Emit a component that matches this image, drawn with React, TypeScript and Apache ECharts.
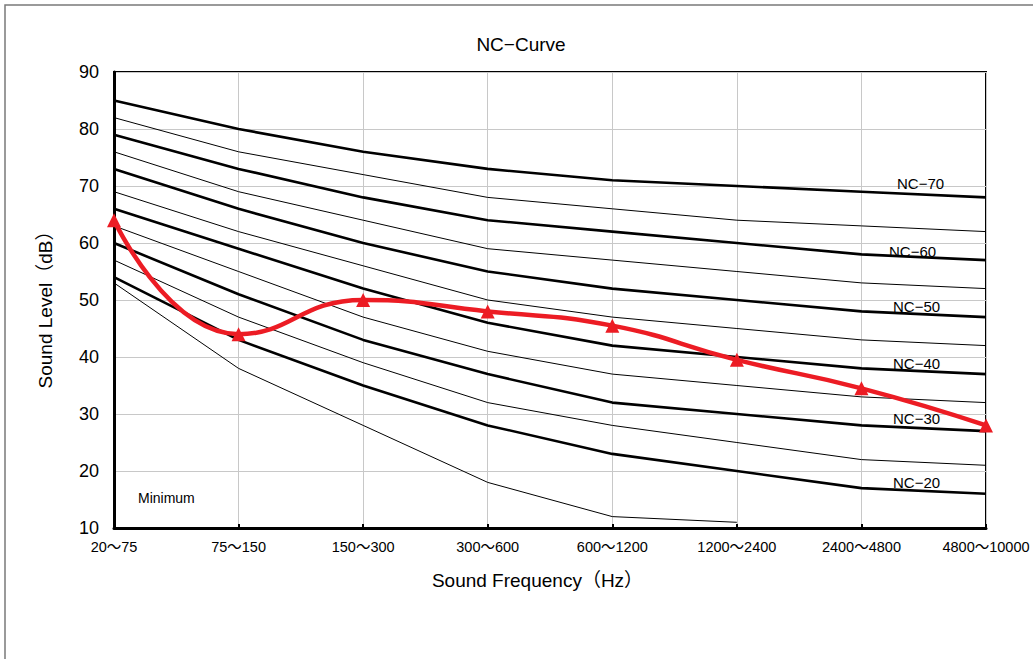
import React, { useEffect, useRef } from "react";
import * as echarts from "echarts";

const categories = ["20～75", "75～150", "150～300", "300～600", "600～1200", "1200～2400", "2400～4800", "4800～10000"];
const yTicks = { min: 10, max: 90, interval: 10 };

const nc70 = [85, 80, 76, 73, 71, 70, 69, 68];
const nc65 = [82, 76, 72, 68, 66, 64, 63, 62];
const nc60 = [79, 73, 68, 64, 62, 60, 58, 57];
const nc55 = [76, 69, 64, 59, 57, 55, 53, 52];
const nc50 = [73, 66, 60, 55, 52, 50, 48, 47];
const nc45 = [69, 62, 56, 50, 47, 45, 43, 42];
const nc40 = [66, 59, 52, 46, 42, 40, 38, 37];
const nc35 = [63, 55, 47, 41, 37, 35, 33, 32];
const nc30 = [60, 51, 43, 37, 32, 30, 28, 27];
const nc25 = [57, 47, 39, 32, 28, 25, 22, 21];
const nc20 = [54, 43, 35, 28, 23, 20, 17, 16];
const minimum = [53, 38, 28, 18, 12, 11, null, null];
const measured = [64, 44, 50, 48, 45.5, 39.5, 34.5, 28];

const ncLabels = [
  { text: "NC−70", x: 897, y: 183 },
  { text: "NC−60", x: 889, y: 251 },
  { text: "NC−50", x: 893, y: 306 },
  { text: "NC−40", x: 893, y: 363 },
  { text: "NC−30", x: 893, y: 418 },
  { text: "NC−20", x: 893, y: 482 },
];

const FONT = '"Liberation Sans", Arial, "Noto Sans CJK JP", sans-serif';

export default function App() {
  const ref = useRef<HTMLDivElement>(null);
  useEffect(() => {
    if (!ref.current) return;
    const chart = echarts.init(ref.current, undefined, { renderer: "svg" });
    const thick = (name: string, data: (number | null)[]) => ({
      name,
      type: "line",
      data,
      symbol: "none",
      lineStyle: { color: "#000", width: 2.6 },
      z: 3,
      silent: true,
    });
    const thin = (name: string, data: (number | null)[]) => ({
      name,
      type: "line",
      data,
      symbol: "none",
      lineStyle: { color: "#000", width: 1 },
      z: 3,
      silent: true,
    });
    chart.setOption({
      animation: false,
      backgroundColor: "#fff",
      textStyle: { fontFamily: FONT },
      grid: {
        left: 114,
        right: 47,
        top: 72,
        bottom: 131,
        show: true,
        borderColor: "#000",
        borderWidth: 2,
      },
      xAxis: {
        type: "category",
        data: categories,
        boundaryGap: false,
        axisLine: { lineStyle: { color: "#000", width: 3 } },
        axisTick: { show: true, inside: true, length: 4, lineStyle: { color: "#000", width: 2 } },
        axisLabel: { color: "#000", fontSize: 14.5, margin: 12, fontFamily: FONT },
        splitLine: { show: true, lineStyle: { color: "#c8c8c8", width: 1 } },
        name: "Sound Frequency（Hz）",
        nameLocation: "middle",
        nameGap: 43,
        nameTextStyle: { color: "#000", fontSize: 19, fontFamily: FONT, padding: [0, 25, 0, 0] },
      },
      yAxis: {
        type: "value",
        min: yTicks.min,
        max: yTicks.max,
        interval: yTicks.interval,
        axisLine: { show: true, lineStyle: { color: "#000", width: 3 } },
        axisTick: { show: false },
        axisLabel: { color: "#000", fontSize: 18, margin: 15, fontFamily: FONT },
        splitLine: { show: true, lineStyle: { color: "#c8c8c8", width: 1 } },
        name: "Sound Level（dB）",
        nameLocation: "middle",
        nameGap: 59,
        nameTextStyle: { color: "#000", fontSize: 19, fontFamily: FONT, padding: [0, 10, 0, 0] },
      },
      series: [
        thick("NC-70", nc70),
        thin("NC-65", nc65),
        thick("NC-60", nc60),
        thin("NC-55", nc55),
        thick("NC-50", nc50),
        thin("NC-45", nc45),
        thick("NC-40", nc40),
        thin("NC-35", nc35),
        thick("NC-30", nc30),
        thin("NC-25", nc25),
        thick("NC-20", nc20),
        thin("Minimum", minimum),
        {
          name: "Measured",
          type: "line",
          data: measured,
          smooth: 0.5,
          symbol: "triangle",
          symbolSize: 14,
          itemStyle: { color: "#ec1c24" },
          lineStyle: { color: "#ec1c24", width: 4.5 },
          z: 10,
        },
      ],
      graphic: [
        {
          type: "rect",
          shape: { x: 5, y: 5, width: 1100, height: 700 },
          style: { fill: "none", stroke: "#7a7a7a", lineWidth: 1.5 },
          z: 100,
          silent: true,
        },
        {
          type: "text",
          x: 521,
          y: 44,
          style: {
            text: "NC−Curve",
            font: `19px ${FONT}`,
            fill: "#000",
            textAlign: "center",
            textVerticalAlign: "middle",
          },
        },
        {
          type: "text",
          x: 138,
          y: 498,
          style: {
            text: "Minimum",
            font: `14px ${FONT}`,
            fill: "#000",
            textAlign: "left",
            textVerticalAlign: "middle",
          },
        },
        ...ncLabels.map((l) => ({
          type: "text",
          x: l.x,
          y: l.y,
          z: 50,
          style: {
            text: l.text,
            font: `15px ${FONT}`,
            fill: "#000",
            textAlign: "left",
            textVerticalAlign: "middle",
          },
        })),
      ],
    });
    return () => chart.dispose();
  }, []);
  return (
    <div
      ref={ref}
      style={{ position: "fixed", left: 0, top: 0, width: 1033, height: 659, background: "#fff" }}
    />
  );
}
